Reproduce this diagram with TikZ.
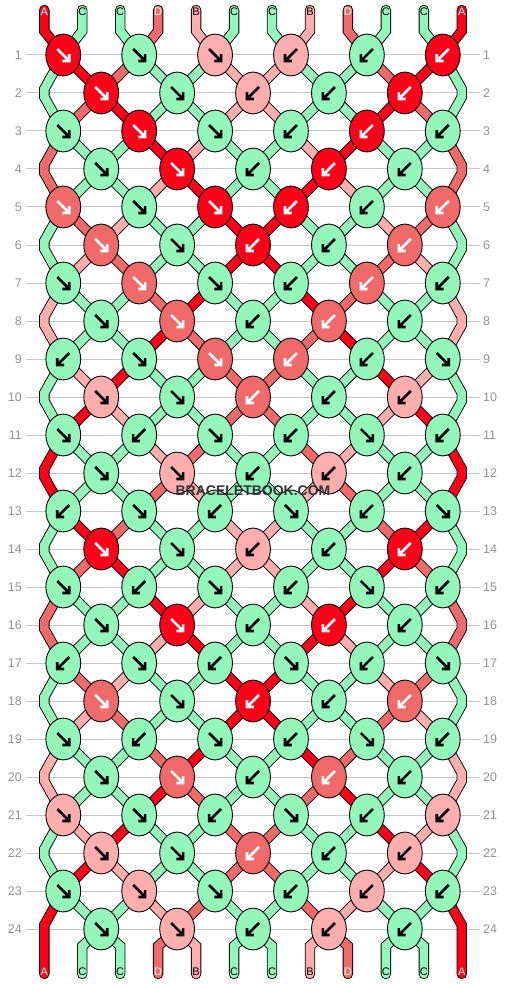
\documentclass[tikz,border=0pt]{standalone}
\usepackage{fontspec}
\setmainfont{Liberation Sans}
\setsansfont{Liberation Sans}
\usepackage{xcolor}
\usepackage{tikz}
\usetikzlibrary{positioning,shapes.geometric}

\definecolor{strA}{HTML}{FF0019}
\definecolor{strB}{HTML}{FFAEAE}
\definecolor{strC}{HTML}{94F7BA}
\definecolor{strD}{HTML}{F16A6A}
\colorlet{fgA}{white}
\colorlet{fgB}{black}
\colorlet{fgC}{black}
\colorlet{fgD}{white}

\pgfdeclarelayer{grid}
\pgfdeclarelayer{strands}
\pgfsetlayers{grid,strands,main}

% knot types per row: f = forward, b = backward
\newcommand\knotrow[2]{\expandafter\def\csname ty#1\endcsname{#2}}
\knotrow{1}{f,f,f,b,b,b}
\knotrow{2}{f,f,b,b,b}
\knotrow{3}{f,f,f,b,b,b}
\knotrow{4}{f,f,b,b,b}
\knotrow{5}{f,f,f,b,b,b}
\knotrow{6}{f,f,b,b,b}
\knotrow{7}{f,f,f,b,b,b}
\knotrow{8}{f,f,b,b,b}
\knotrow{9}{b,f,f,b,b,f}
\knotrow{10}{f,f,b,b,b}
\knotrow{11}{f,b,f,b,f,b}
\knotrow{12}{f,f,b,b,b}
\knotrow{13}{b,f,b,f,b,f}
\knotrow{14}{f,f,b,b,b}
\knotrow{15}{f,b,f,b,f,b}
\knotrow{16}{f,f,b,b,b}
\knotrow{17}{b,f,b,f,b,f}
\knotrow{18}{f,f,b,b,b}
\knotrow{19}{f,b,f,b,f,b}
\knotrow{20}{f,f,b,b,b}
\knotrow{21}{f,f,b,f,b,b}
\knotrow{22}{f,f,b,b,b}
\knotrow{23}{f,f,f,b,b,b}
\knotrow{24}{f,f,b,b,b}

\begin{document}
\begin{tikzpicture}[x=1pt,y=-1pt,
  knot/.style={ellipse, draw=black, line width=0.9pt, fill=#1, minimum width=34.8pt, minimum height=41.8pt, inner sep=0pt},
  strand/.style={draw=black, double=#1, double distance=8.6pt, line width=0.9pt, line cap=round, line join=miter},
  gridline/.style={draw=black!22, line width=1pt},
  rowlabel/.style={font=\sffamily\fontsize{12.5}{12.5}\selectfont, text=black!42, inner sep=0pt},
  endlabel/.style={font=\sffamily\fontsize{11}{11}\selectfont, inner sep=0pt},
  wmark/.style={font=\sffamily\bfseries\fontsize{14}{14}\selectfont, inner sep=0pt},
  knotarrow/.pic={\draw[line width=2.6pt, line join=miter] (-6,-6) -- (6,6) (-0.8,6) -- (6,6) -- (6,-0.8);}
]
\useasboundingbox (0,0) rectangle (506,984);
\def\xo{44.3}
\def\xr{461.75}
\def\gap{37.95}

% row lines and numbers
\begin{pgfonlayer}{grid}
  \fill[white] (0,0) rectangle (506,984);
  \foreach \rw in {1,...,24}{
    \draw[gridline] (26,{55+38*(\rw-1)}) -- (480,{55+38*(\rw-1)});
    \node[rowlabel, anchor=east] (rl-\rw) at (22,{55+38*(\rw-1)}) {\rw};
    \node[rowlabel, anchor=west] (rr-\rw) at (483,{55+38*(\rw-1)}) {\rw};
  }
\end{pgfonlayer}

% string ends at the top
\foreach \ltr [count=\ii from 0] in {A,C,C,D,B,C,C,B,D,C,C,A}{
  \expandafter\xdef\csname s\ii\endcsname{\ltr}
  \coordinate (t\ii) at (\xo+\gap*\ii,10);
  \node[endlabel, text=fg\ltr] (lt\ii) at (\xo+\gap*\ii,12) {\ltr};
}

% knots, row by row
\foreach \rw in {1,...,24}{
  \pgfmathsetmacro\yy{55+38*(\rw-1)}
  \pgfmathtruncatemacro\odd{mod(\rw,2)}
  \pgfmathtruncatemacro\pr{\rw-1}
  \pgfmathtruncatemacro\pp{\rw-2}
  \edef\tylist{\csname ty\rw\endcsname}
  \foreach \kt [count=\kk from 0] in \tylist {
    \pgfmathtruncatemacro\pl{2*\kk+1-\odd}
    \pgfmathtruncatemacro\pq{\pl+1}
    \pgfmathsetmacro\xx{\xo+\gap*\pl+18.975}
    \edef\lc{\csname s\pl\endcsname}
    \edef\rc{\csname s\pq\endcsname}
    \if\kt f\edef\kc{\lc}\def\ax{1}\else\edef\kc{\rc}\def\ax{-1}\fi
    \node[knot=str\kc] (k-\rw-\kk) at (\xx,\yy) {};
    \pic[color=fg\kc, xscale=\ax] at (k-\rw-\kk.center) {knotarrow};
    \begin{pgfonlayer}{strands}
    \ifnum\rw=1
      \draw[strand=str\lc] (t\pl) -- ++(0,21) -- (k-\rw-\kk.center);
      \draw[strand=str\rc] (t\pq) -- ++(0,21) -- (k-\rw-\kk.center);
    \else
      \ifnum\odd=1
        \ifnum\kk=0
          \draw[strand=str\lc] (k-\pp-0.center) -- (\xo,\yy-42) -- (\xo,\yy-34) -- (k-\rw-\kk.center);
        \else
          \pgfmathtruncatemacro\km{\kk-1}
          \draw[strand=str\lc] (k-\pr-\km.center) -- (k-\rw-\kk.center);
        \fi
        \ifnum\kk=5
          \draw[strand=str\rc] (k-\pp-5.center) -- (\xr,\yy-42) -- (\xr,\yy-34) -- (k-\rw-\kk.center);
        \else
          \draw[strand=str\rc] (k-\pr-\kk.center) -- (k-\rw-\kk.center);
        \fi
      \else
        \pgfmathtruncatemacro\kp{\kk+1}
        \draw[strand=str\lc] (k-\pr-\kk.center) -- (k-\rw-\kk.center);
        \draw[strand=str\rc] (k-\pr-\kp.center) -- (k-\rw-\kk.center);
      \fi
    \fi
    \end{pgfonlayer}
    % swap the two strings
    \expandafter\xdef\csname s\pl\endcsname{\rc}
    \expandafter\xdef\csname s\pq\endcsname{\lc}
  }
}

% string ends at the bottom
\foreach \ii in {1,...,10}{
  \pgfmathtruncatemacro\jj{(\ii-1)/2}
  \edef\ltr{\csname s\ii\endcsname}
  \coordinate (b\ii) at (\xo+\gap*\ii,974);
  \node[endlabel, text=fg\ltr] (lb\ii) at (\xo+\gap*\ii,972) {\ltr};
  \begin{pgfonlayer}{strands}
    \draw[strand=str\ltr] (k-24-\jj.center) -- (\xo+\gap*\ii,946) -- (b\ii);
  \end{pgfonlayer}
}
\foreach \ii/\kk/\ex in {0/0/44.3, 11/5/461.75}{
  \edef\ltr{\csname s\ii\endcsname}
  \coordinate (b\ii) at (\ex,974);
  \node[endlabel, text=fg\ltr] (lb\ii) at (\ex,972) {\ltr};
  \begin{pgfonlayer}{strands}
    \draw[strand=str\ltr] (k-23-\kk.center) -- (\ex,925) -- (b\ii);
  \end{pgfonlayer}
}

% watermark
\node[wmark, text=black!80] (wmark) at (253,491) {BRACELETBOOK.COM};
\end{tikzpicture}
\end{document}
